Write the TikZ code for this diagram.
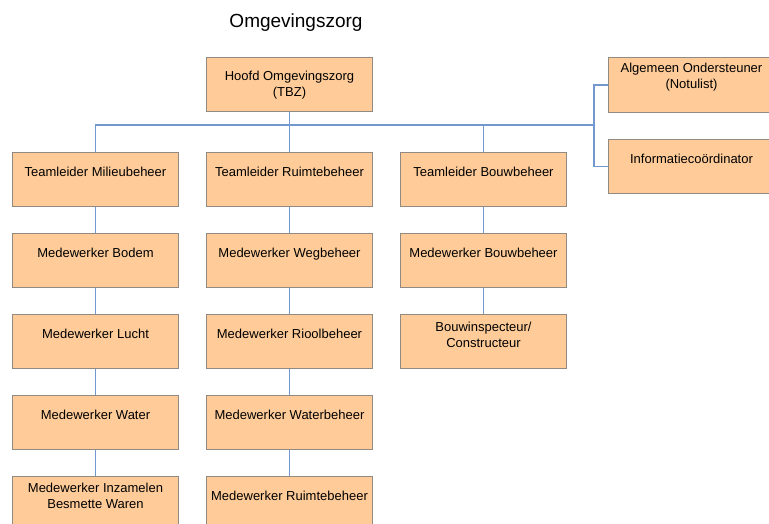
\documentclass[tikz,border=0pt]{standalone}
\usepackage{fontspec}
\setmainfont{Liberation Sans}
\usetikzlibrary{calc}
\definecolor{boxfill}{RGB}{255,204,153}
\definecolor{boxline}{RGB}{145,138,130}
\definecolor{conncol}{RGB}{115,152,208}
\tikzset{
  box/.style={draw=boxline, fill=boxfill, line width=1pt, minimum width=166pt, minimum height=54pt, inner sep=0pt, anchor=north west},
  txt/.style={font=\fontsize{13}{16}\selectfont, align=center, inner sep=0pt, text height=9.4pt, text depth=2.6pt},
  txttwo/.style={font=\fontsize{13}{16}\selectfont, align=center, inner sep=0pt},
  conn/.style={draw=conncol, line width=1.2pt}
}
\begin{document}
\begin{tikzpicture}[x=1pt,y=-1pt]
\useasboundingbox (0,0) rectangle (769,524);
\clip (0,0) rectangle (769,524);
\fill[white] (0,0) rectangle (769,524);
\node[font=\fontsize{19}{22}\selectfont, inner sep=0pt] (title) at (296,23) {Omgevingszorg};
% boxes
\node[box] (head) at (206,57) {};
\node[box, minimum height=55pt] (a1) at (608,57) {};
\node[box] (a2) at (608,139) {};
\node[box] (tm) at (12,152) {};
\node[box] (tr) at (206,152) {};
\node[box] (tb) at (400,152) {};
\node[box] (m1) at (12,233) {};
\node[box] (m2) at (12,314) {};
\node[box] (m3) at (12,395) {};
\node[box] (m4) at (12,476) {};
\node[box] (r1) at (206,233) {};
\node[box] (r2) at (206,314) {};
\node[box] (r3) at (206,395) {};
\node[box] (r4) at (206,476) {};
\node[box] (b1) at (400,233) {};
\node[box] (b2) at (400,314) {};
% texts
\node[txttwo] (thead) at ($(head.center)+(0,0.5)$) {Hoofd Omgevingszorg\\(TBZ)};
\node[txttwo] (ta1) at ($(a1.north)+(0,20)$) {Algemeen Ondersteuner\\(Notulist)};
\node[txt] (ta2) at ($(a2.north)+(0,21)$) {Informatiecoördinator};
\node[txt] (ttm) at ($(tm.north)+(0,21)$) {Teamleider Milieubeheer};
\node[txt] (ttr) at ($(tr.north)+(0,21)$) {Teamleider Ruimtebeheer};
\node[txt] (ttb) at ($(tb.north)+(0,21)$) {Teamleider Bouwbeheer};
\node[txt] (tm1) at ($(m1.north)+(0,21)$) {Medewerker Bodem};
\node[txt] (tm2) at ($(m2.north)+(0,21)$) {Medewerker Lucht};
\node[txt] (tm3) at ($(m3.north)+(0,21)$) {Medewerker Water};
\node[txttwo] (tm4) at ($(m4.north)+(0,20)$) {Medewerker Inzamelen\\Besmette Waren};
\node[txt] (tr1) at ($(r1.north)+(0,21)$) {Medewerker Wegbeheer};
\node[txt] (tr2) at ($(r2.north)+(0,21)$) {Medewerker Rioolbeheer};
\node[txt] (tr3) at ($(r3.north)+(0,21)$) {Medewerker Waterbeheer};
\node[txt] (tr4) at ($(r4.north)+(0,21)$) {Medewerker Ruimtebeheer};
\node[txt] (tb1) at ($(b1.north)+(0,21)$) {Medewerker Bouwbeheer};
\node[txttwo] (tb2) at ($(b2.north)+(0,20.5)$) {Bouwinspecteur/\\Constructeur};
% connectors
\coordinate (rj) at (594,125);
\draw[conn] (head.south) -- (tr.north);
\draw[conn] (tm.north) |- (rj);
\draw[conn] (tb.north) -- (tb.north |- rj);
\draw[conn] (a1.west) -| (rj);
\draw[conn] (a2.west) -| (rj);
\draw[conn] (tm.south) -- (m1.north);
\draw[conn] (m1.south) -- (m2.north);
\draw[conn] (m2.south) -- (m3.north);
\draw[conn] (m3.south) -- (m4.north);
\draw[conn] (tr.south) -- (r1.north);
\draw[conn] (r1.south) -- (r2.north);
\draw[conn] (r2.south) -- (r3.north);
\draw[conn] (r3.south) -- (r4.north);
\draw[conn] (tb.south) -- (b1.north);
\draw[conn] (b1.south) -- (b2.north);
\end{tikzpicture}
\end{document}
